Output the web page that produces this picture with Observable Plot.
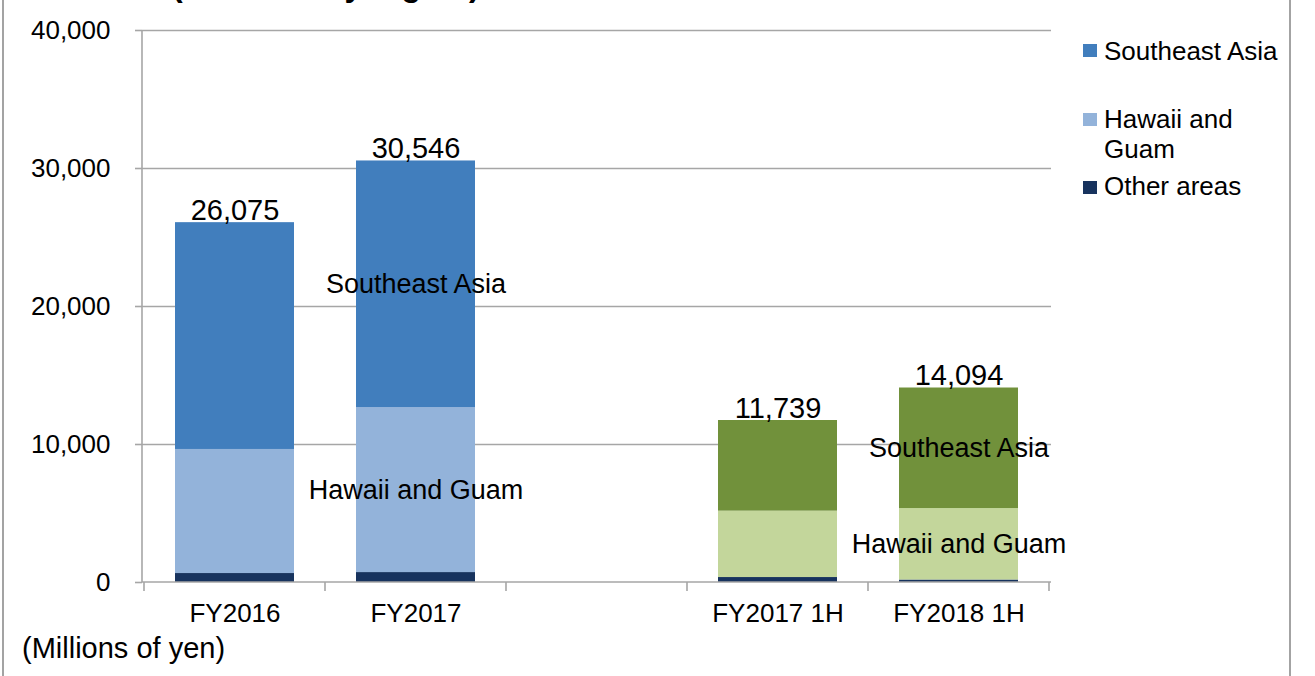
<!DOCTYPE html>
<html>
<head>
<meta charset="utf-8">
<script src="https://cdn.jsdelivr.net/npm/d3@7"></script>
<script src="https://cdn.jsdelivr.net/npm/@observablehq/plot@0.6"></script>
<style>
  html, body { margin: 0; padding: 0; background: #fff; }
  body { width: 1315px; height: 676px; position: relative; overflow: hidden; font-family: "Liberation Sans", Arial, sans-serif; }
  #chart { position: absolute; left: 0; top: 0; }
  .title { position: absolute; left: 172px; top: -31px; font-size: 32px; font-weight: bold; line-height: 1; white-space: nowrap; color: #000; }
  .frameL { position: absolute; left: 2px; top: 0; width: 0; height: 676px; border-left: 2px solid #A3A3A3; }
  .frameR { position: absolute; left: 1289px; top: 0; width: 0; height: 676px; border-left: 2px solid #A3A3A3; }
  .legend { position: absolute; left: 1083px; top: 0; font-size: 26px; color: #000; }
  .legend .item { position: absolute; left: 0; white-space: nowrap; line-height: 30px; }
  .legend .sw { position: absolute; left: 0; width: 14px; height: 13px; }
  .legend .lbl { position: absolute; left: 21px; }
  .caption { position: absolute; left: 22px; top: 631px; font-size: 29px; line-height: 34px; color: #000; white-space: nowrap; }
</style>
</head>
<body>
<div class="frameL"></div>
<div class="frameR"></div>
<div class="title">(Revenue by region)</div>
<div id="chart"></div>
<div class="legend" id="legend"></div>
<div class="caption">(Millions of yen)</div>
<script>
// ---- data ----
const periods = ["FY2016", "FY2017", " ", "FY2017 1H", "FY2018 1H"];
const barPeriods = ["FY2016", "FY2017", "FY2017 1H", "FY2018 1H"];
const regions = ["Other areas", "Hawaii and Guam", "Southeast Asia"];
const otherAreas = [650, 720, 360, 180];
const hawaiiGuam = [8990, 11960, 4810, 5180];
const southeastAsia = [16435, 17866, 6569, 8734];
const totals = [26075, 30546, 11739, 14094];
const barPalette = ["blue", "blue", "green", "green"];
const labelledBars = ["FY2017", "FY2018 1H"];
const yTicks = [0, 10000, 20000, 30000, 40000];
const colors = {
  blue: {"Southeast Asia": "#417EBD", "Hawaii and Guam": "#93B3DA", "Other areas": "#17335E"},
  green: {"Southeast Asia": "#71913B", "Hawaii and Guam": "#C3D69B", "Other areas": "#17335E"}
};
const legendItems = [
  {label: "Southeast Asia", color: "#417EBD", top: 44, textTop: 36},
  {label: "Hawaii and<br>Guam", color: "#93B3DA", top: 113, textTop: 104},
  {label: "Other areas", color: "#17335E", top: 181, textTop: 171}
];

// ---- table ----
const seriesValues = {"Other areas": otherAreas, "Hawaii and Guam": hawaiiGuam, "Southeast Asia": southeastAsia};
const rows = [];
regions.forEach(r => barPeriods.forEach((p, i) => {
  rows.push({period: p, region: r, value: seriesValues[r][i], color: colors[barPalette[i]][r]});
}));
const totalRows = barPeriods.map((p, i) => ({period: p, total: totals[i]}));

const font = "Liberation Sans, Arial, sans-serif";

function slotTicks(index, scales, values, dims) {
  const x = scales.x, y = scales.y;
  const dom = periods;
  const step = (x.step ? x.step() : (x(dom[1]) - x(dom[0])));
  const bw = x.bandwidth ? x.bandwidth() : 0;
  const y0 = y(0);
  const yTop = y(yTicks[yTicks.length - 1]);
  const edges = dom.map(d => x(d) + bw / 2 - step / 2);
  edges.push(x(dom[dom.length - 1]) + bw / 2 + step / 2);
  const g = d3.create("svg:g").attr("stroke", "#A6A6A6").attr("stroke-width", 1.6);
  g.selectAll("line.t").data(edges).join("line")
    .attr("x1", d => d).attr("x2", d => d).attr("y1", y0).attr("y2", y0 + 9);
  g.append("line").attr("x1", dims.marginLeft).attr("x2", dims.marginLeft).attr("y1", yTop).attr("y2", y0);
  g.append("line").attr("x1", dims.marginLeft).attr("x2", dims.width - dims.marginRight).attr("y1", y0).attr("y2", y0);
  return g.node();
}

const chart = Plot.plot({
  width: 1315,
  height: 676,
  marginLeft: 142,
  marginRight: 264,
  marginTop: 30,
  marginBottom: 94,
  style: {fontFamily: font, fontSize: "26px", color: "#000", background: "transparent"},
  x: {domain: periods, paddingInner: 0.34, paddingOuter: 0.17, label: null, axis: null},
  y: {domain: [0, 40000], label: null, axis: null},
  color: {type: "identity"},
  marks: [
    Plot.gridY(yTicks.filter(t => t > 0), {stroke: "#A6A6A6", strokeOpacity: 1, strokeWidth: 1.6}),
    Plot.barY(rows, Plot.stackY({x: "period", y: "value", z: "region", fill: "color", order: regions})),
    slotTicks,
    Plot.axisY({ticks: yTicks, tickFormat: d3.format(","), tickSize: 7, tickPadding: 25, stroke: "#A6A6A6", strokeWidth: 1.6, strokeOpacity: 1, fontSize: 26, fill: "#000", label: null}),
    Plot.axisX({tickSize: 0, tickPadding: 21, fontSize: 26, fill: "#000", label: null, tickFormat: d => d.trim()}),
    Plot.text(rows, Plot.stackY({
      x: "period", y: "value", z: "region", order: regions,
      text: d => (labelledBars.includes(d.period) && d.region !== "Other areas") ? d.region : null,
      fontSize: 27, fill: "#000"
    })),
    Plot.text(totalRows, {x: "period", y: "total", text: d => d3.format(",")(d.total), lineAnchor: "bottom", dy: -3, fontSize: 29, fill: "#000"})
  ]
});
document.getElementById("chart").appendChild(chart);

const legend = document.getElementById("legend");
legendItems.forEach(it => {
  const sw = document.createElement("div");
  sw.className = "sw";
  sw.style.top = it.top + "px";
  sw.style.background = it.color;
  legend.appendChild(sw);
  const lb = document.createElement("div");
  lb.className = "item lbl";
  lb.style.top = it.textTop + "px";
  lb.innerHTML = it.label;
  legend.appendChild(lb);
});
</script>
</body>
</html>
